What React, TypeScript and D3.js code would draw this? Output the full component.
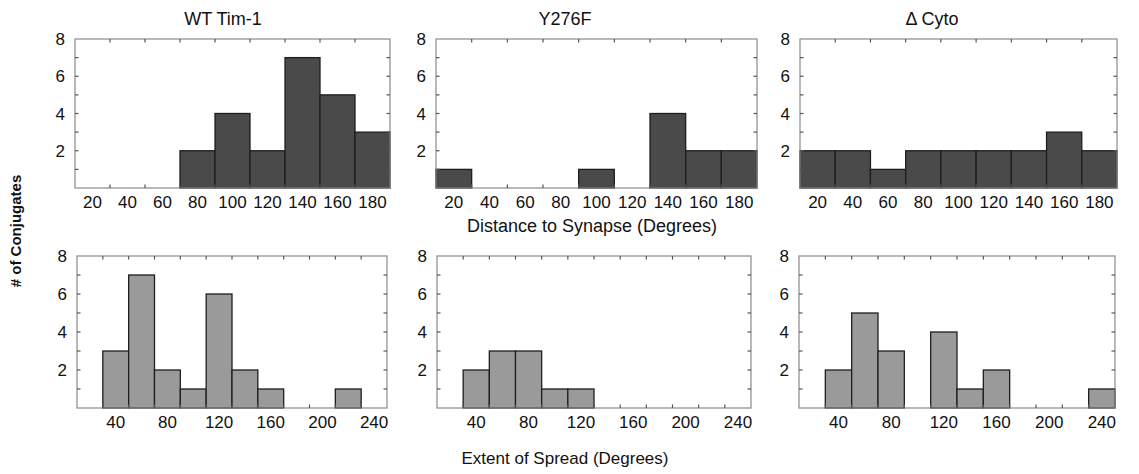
import { scaleLinear, range } from "d3";

// bin centres (degrees)
const distanceBins = [20, 40, 60, 80, 100, 120, 140, 160, 180];
const spreadBins = [20, 40, 60, 80, 100, 120, 140, 160, 180, 200, 220, 240];

// counts per bin
const wtDistance = [0, 0, 0, 2, 4, 2, 7, 5, 3];
const y276fDistance = [1, 0, 0, 0, 1, 0, 4, 2, 2];
const cytoDistance = [2, 2, 1, 2, 2, 2, 2, 3, 2];

const wtSpread = [0, 3, 7, 2, 1, 6, 2, 1, 0, 0, 1, 0];
const y276fSpread = [0, 2, 3, 3, 1, 1, 0, 0, 0, 0, 0, 0];
const cytoSpread = [0, 2, 5, 3, 0, 4, 1, 2, 0, 0, 0, 1];

const titles = ["WT Tim-1", "Y276F", "\u0394 Cyto"];
const yLabels = [2, 4, 6, 8];
const distanceLabels = [20, 40, 60, 80, 100, 120, 140, 160, 180];
const spreadLabels = [40, 80, 120, 160, 200, 240];

const FONT = "'Liberation Sans', Arial, Helvetica, sans-serif";
const BIN = 20;

type PanelProps = {
  x0: number;
  x1: number;
  y0: number;
  y1: number;
  bins: number[];
  counts: number[];
  labels: number[];
  fill: string;
};

const Panel = ({ x0, x1, y0, y1, bins, counts, labels, fill }: PanelProps) => {
  const lo = bins[0] - BIN / 2;
  const hi = bins[bins.length - 1] + BIN / 2;
  const x = scaleLinear().domain([lo, hi]).range([x0, x1]);
  const y = scaleLinear().domain([0, 8]).range([y1, y0]);
  const edges = range(lo + BIN, hi, BIN);
  const yTicks = range(1, 8);
  const tick = 3.5;

  return (
    <g>
      <rect x={x0} y={y0} width={x1 - x0} height={y1 - y0} fill="#fff" stroke="none" />
      {counts.map((c, i) =>
        c > 0 ? (
          <rect
            key={i}
            x={x(bins[i] - BIN / 2)}
            y={y(c)}
            width={x(bins[i] + BIN / 2) - x(bins[i] - BIN / 2)}
            height={y(0) - y(c)}
            fill={fill}
            stroke="#1e1e1e"
            strokeWidth={1.3}
          />
        ) : null
      )}
      <rect x={x0} y={y0} width={x1 - x0} height={y1 - y0} fill="none" stroke="#8a8a8a" strokeWidth={1.2} />
      {edges.map((e) => (
        <g key={e} stroke="#555" strokeWidth={1.2}>
          <line x1={x(e)} x2={x(e)} y1={y0} y2={y0 + tick} />
          <line x1={x(e)} x2={x(e)} y1={y1} y2={y1 - tick} />
        </g>
      ))}
      {yTicks.map((t) => (
        <g key={t} stroke="#555" strokeWidth={1.2}>
          <line x1={x0} x2={x0 + tick} y1={y(t)} y2={y(t)} />
          <line x1={x1} x2={x1 - tick} y1={y(t)} y2={y(t)} />
        </g>
      ))}
      {yLabels.map((t) => (
        <text
          key={t}
          x={x0 - 10}
          y={y(t) + 6}
          textAnchor="end"
          fontSize={17}
          fontFamily={FONT}
          fill="#111"
        >
          {t}
        </text>
      ))}
      {labels.map((l) => (
        <text
          key={l}
          x={x(l)}
          y={y1 + 20}
          textAnchor="middle"
          fontSize={17}
          fontFamily={FONT}
          fill="#111"
        >
          {l}
        </text>
      ))}
    </g>
  );
};

const topRow = [
  { x0: 75, x1: 390, counts: wtDistance },
  { x0: 436, x1: 757, counts: y276fDistance },
  { x0: 800, x1: 1117, counts: cytoDistance },
];
const bottomRow = [
  { x0: 77, x1: 387, counts: wtSpread },
  { x0: 437, x1: 751, counts: y276fSpread },
  { x0: 799, x1: 1115, counts: cytoSpread },
];
const titleX = [223, 565, 932];

export default function App() {
  return (
    <svg
      width={1139}
      height={474}
      style={{ position: "absolute", left: 0, top: 0, background: "#fff" }}
    >
      {titles.map((t, i) => (
        <text key={t} x={titleX[i]} y={25} textAnchor="middle" fontSize={18} fontFamily={FONT} fill="#111">
          {t}
        </text>
      ))}
      {topRow.map((p, i) => (
        <Panel
          key={"t" + i}
          x0={p.x0}
          x1={p.x1}
          y0={39}
          y1={188}
          bins={distanceBins}
          counts={p.counts}
          labels={distanceLabels}
          fill="#4a4a4a"
        />
      ))}
      {bottomRow.map((p, i) => (
        <Panel
          key={"b" + i}
          x0={p.x0}
          x1={p.x1}
          y0={256}
          y1={408}
          bins={spreadBins}
          counts={p.counts}
          labels={spreadLabels}
          fill="#9a9a9a"
        />
      ))}
      <text x={592} y={232} textAnchor="middle" fontSize={18} fontFamily={FONT} fill="#111">
        Distance to Synapse (Degrees)
      </text>
      <text x={565} y={464} textAnchor="middle" fontSize={17} fontFamily={FONT} fill="#111">
        Extent of Spread (Degrees)
      </text>
      <text
        transform="translate(21,231) rotate(-90)"
        textAnchor="middle"
        fontSize={15}
        fontWeight="bold"
        fontFamily={FONT}
        fill="#111"
      >
        # of Conjugates
      </text>
    </svg>
  );
}
